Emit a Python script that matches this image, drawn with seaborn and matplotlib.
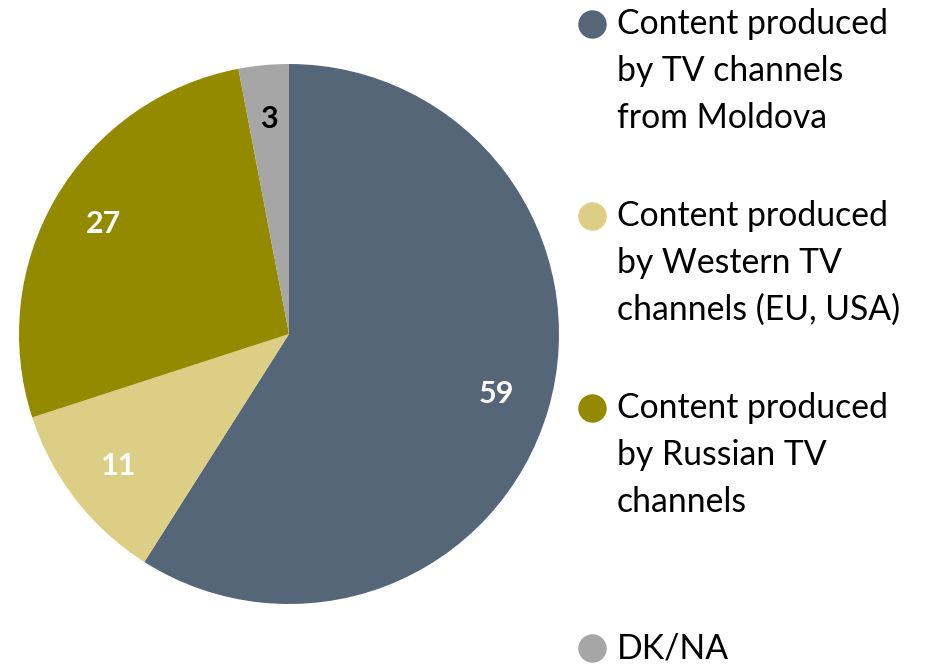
import matplotlib
matplotlib.use("Agg")
import matplotlib.pyplot as plt
import seaborn as sns

sns.set_theme(style="white")
plt.rcParams['font.family'] = ['Lato', 'DejaVu Sans']

# ~~~~~~~~~~~~~~~~~~  DATA  ~~~~~~~~~~~~~~~~~~
categories = ["Content produced\nby TV channels\nfrom Moldova",
              "Content produced\nby Western TV\nchannels (EU, USA)",
              "Content produced\nby Russian TV\nchannels",
              "DK/NA"]
values = [59, 11, 27, 3]
colors = ["#546678", "#dccf85", "#948a00", "#a6a6a6"]
label_colors = ["white", "white", "white", "black"]

fig = plt.figure(figsize=(9.25, 6.66), dpi=100)

# ~~~~~~~~~~~~~~~~~~  PIE  ~~~~~~~~~~~~~~~~~~
ax = fig.add_axes([19 / 925, 62 / 666, 540 / 925, 540 / 666])
wedges, texts = ax.pie(values,
                       colors=colors,
                       startangle=90,
                       counterclock=False,
                       labels=[str(v) for v in values],
                       labeldistance=0.8,
                       radius=1,
                       wedgeprops=dict(linewidth=0))
for t, c in zip(texts, label_colors):
    t.set_color(c)
    t.set_fontsize(22)
    t.set_fontweight('bold')
    t.set_ha('center')
    t.set_va('center')
ax.set_xlim(-1.0, 1.0)
ax.set_ylim(-1.0, 1.0)
ax.set_aspect('equal')

# ~~~~~~~~~~~~~~~~~~  LEGEND (manual, pixel coords)  ~~~~~~~~~~~~~~~~~~
lax = fig.add_axes([0, 0, 1, 1])
lax.set_xlim(0, 925)
lax.set_ylim(666, 0)
lax.axis('off')

legend_y = [24, 216, 408, 648]
line_gap = 47
for label, color, y in zip(categories, colors, legend_y):
    lax.scatter([592], [y], s=420, color=color, linewidths=0)
    for i, line in enumerate(label.split("\n")):
        lax.text(617, y + i * line_gap, line, fontsize=24.3,
                 ha='left', va='center', color='black')

plt.savefig("out.png", dpi=100)
